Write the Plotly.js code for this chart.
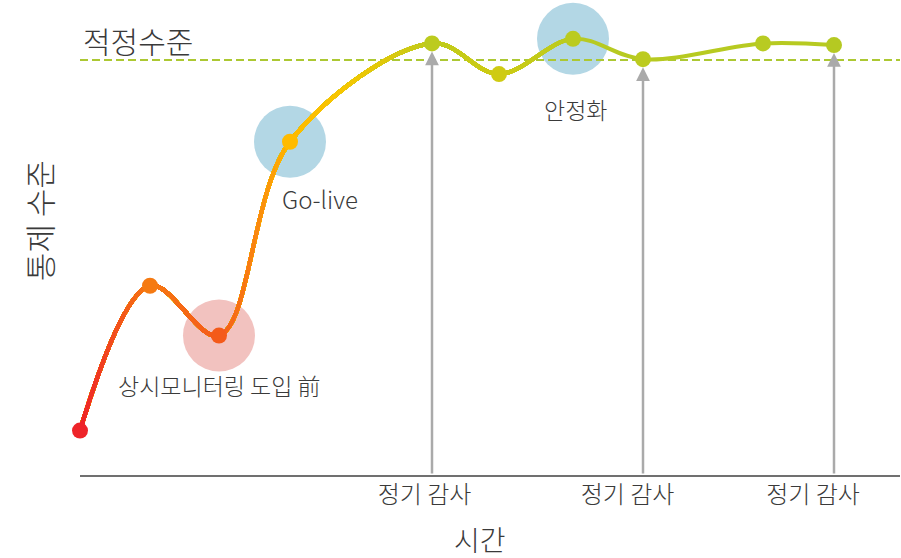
<!DOCTYPE html>
<html>
<head>
<meta charset="utf-8">
<script src="https://cdn.plot.ly/plotly-3.0.1.min.js"></script>
<style>html,body{margin:0;padding:0;background:#fff;}#chart{width:901px;height:558px;}</style>
</head>
<body>
<div id="chart"></div>
<script>
// ---- data ----
const xVals = [0, 7, 13.9, 21.0, 35.2, 41.9, 49.3, 56.3, 68.3, 75.4];
const yVals = [10.7, 45.6, 33.6, 80.3, 104.0, 96.6, 105.1, 100.2, 104.0, 103.6];
const pointColors = ['#ee2429','#f57a12','#f45a1a','#ffbb00','#bccb1e','#cfcb12','#bbcb1f','#bccb1f','#b8cb22','#b5c922'];
const targetLevel = 100;
const targetLabel = '적정수준';
const auditIdx = [4, 7, 9];
const auditTickPos = [34.45, 54.75, 73.3];
const auditLabel = '정기 감사';
const highlightIdx = [2, 3, 6];
const highlightColors = ['#f2c2bf', '#b3d7e5', '#b3d7e5'];
const phaseLabels = ['상시모니터링 도입 前', 'Go-live', '안정화'];
const xTitle = '시간';
const yTitle = '통제 수준';
const gradientStops = [
  [0, '#ee2228'], [7, '#f77a12'], [13.9, '#f4581a'], [17, '#f97e12'], [21, '#ffb800'],
  [26, '#f8c600'], [31, '#dcc80c'], [35.2, '#bdcb1e'], [38.5, '#c6cb16'], [41.9, '#cfcb12'],
  [45.5, '#c4cb18'], [49.3, '#b9cb20'], [82, '#b5ca22']
];
const xRange = [0, 82];
const yRange = [0, 109.64];

// ---- helpers ----
function hex2rgb(h){ return [parseInt(h.slice(1,3),16), parseInt(h.slice(3,5),16), parseInt(h.slice(5,7),16)]; }
function colorAt(x){
  for (let i = 0; i < gradientStops.length - 1; i++){
    const [x0,c0] = gradientStops[i], [x1,c1] = gradientStops[i+1];
    if (x >= x0 && x <= x1){
      const t = (x - x0) / (x1 - x0);
      const a = hex2rgb(c0), b = hex2rgb(c1);
      return 'rgb(' + a.map((v,k)=>Math.round(v + (b[k]-v)*t)).join(',') + ')';
    }
  }
  return gradientStops[gradientStops.length-1][1];
}

const FONT = '"Noto Sans CJK KR", "Noto Sans", sans-serif';
const TXT = '#3a3a3a';
const W = 300;
const traces = [];
const layout = {
  width: 901, height: 558,
  margin: {l: 80, r: 1, t: 20, b: 83},
  paper_bgcolor: '#ffffff', plot_bgcolor: 'rgba(0,0,0,0)',
  showlegend: false,
  font: {family: FONT, color: TXT, weight: W},
  xaxis: {
    domain: [0,1], range: xRange, fixedrange: true,
    showline: true, linecolor: '#707070', linewidth: 2,
    showgrid: false, zeroline: false, ticks: '',
    tickvals: auditTickPos,
    ticktext: auditTickPos.map(() => auditLabel),
    tickfont: {size: 24, color: TXT, family: FONT, weight: W},
    ticklabelstandoff: -3
  },
  yaxis: {
    domain: [0,1], range: yRange, fixedrange: true,
    showline: false, showgrid: false, zeroline: false, ticks: '', showticklabels: false
  },
  annotations: [], shapes: []
};

// highlight circles (main subplot, bottom)
traces.push({
  type: 'scatter', mode: 'markers', xaxis: 'x', yaxis: 'y', hoverinfo: 'skip',
  x: highlightIdx.map(i => xVals[i]), y: highlightIdx.map(i => yVals[i]),
  marker: {size: 72, color: highlightColors, line: {width: 0}}, cliponaxis: false
});
// target dashed line
traces.push({
  type: 'scatter', mode: 'lines', xaxis: 'x', yaxis: 'y', hoverinfo: 'skip',
  x: xRange, y: [targetLevel, targetLevel],
  line: {color: '#acc832', width: 2, dash: '8px,4px'}
});

// gradient line: stacked subplots clipped at their right edge (widest first)
const edges = [xRange[1]];
for (let k = 100; k >= 1; k--) edges.push(Math.round(k * 5) / 10);
const span = xRange[1] - xRange[0];
edges.forEach((e, k) => {
  const id = k + 2;
  const prev = (k + 1 < edges.length) ? edges[k + 1] : xRange[0];
  layout['xaxis' + id] = {
    domain: [0, (e - xRange[0]) / span],
    range: [xRange[0], e], visible: false, anchor: 'y', fixedrange: true
  };
  traces.push({
    type: 'scatter', mode: 'lines', xaxis: 'x' + id, yaxis: 'y', hoverinfo: 'skip',
    x: xVals, y: yVals,
    line: {shape: 'spline', smoothing: 1, width: 4, color: colorAt((prev + e) / 2), simplify: false}
  });
});
// markers on top
const topId = edges.length + 2;
layout['xaxis' + topId] = {domain: [0,1], range: xRange, visible: false, anchor: 'y', fixedrange: true};
traces.push({
  type: 'scatter', mode: 'markers', xaxis: 'x' + topId, yaxis: 'y', hoverinfo: 'skip',
  x: xVals, y: yVals, cliponaxis: false,
  marker: {size: 16, color: pointColors, line: {width: 0}}
});

// arrows for audits
auditIdx.forEach(i => {
  layout.annotations.push({
    x: xVals[i], y: yVals[i], xref: 'x', yref: 'y',
    ax: xVals[i], ay: 0, axref: 'x', ayref: 'y',
    text: '', showarrow: true, arrowhead: 2, arrowsize: 1.1, arrowwidth: 2.5,
    arrowcolor: '#aaaaaa', standoff: 8
  });
});

// text labels
layout.annotations.push({
  x: xRange[0], y: targetLevel, xref: 'x', yref: 'y', text: targetLabel, showarrow: false,
  xanchor: 'left', yanchor: 'middle', xshift: 1, yshift: 20,
  font: {size: 30, color: TXT, family: FONT, weight: W}
});
const phaseShift = [[0, -49, 23], [30, -57, 24], [2, -70, 23]];
highlightIdx.forEach((i, k) => {
  layout.annotations.push({
    x: xVals[i], y: yVals[i], xref: 'x', yref: 'y', text: phaseLabels[k], showarrow: false,
    xanchor: 'center', yanchor: 'middle', xshift: phaseShift[k][0], yshift: phaseShift[k][1],
    font: {size: phaseShift[k][2], color: TXT, family: FONT, weight: W}
  });
});
// axis titles
layout.annotations.push({
  x: 0.4878, y: -0.14, xref: 'paper', yref: 'paper', text: xTitle, showarrow: false,
  xanchor: 'center', yanchor: 'middle', font: {size: 28, color: TXT, family: FONT, weight: W}
});
layout.annotations.push({
  x: -0.0512, y: 0.558, xref: 'paper', yref: 'paper', text: yTitle, showarrow: false,
  textangle: -90, xanchor: 'center', yanchor: 'middle', font: {size: 31, color: TXT, family: FONT, weight: W}
});

Plotly.newPlot('chart', traces, layout, {staticPlot: true, displayModeBar: false});
</script>
</body>
</html>
